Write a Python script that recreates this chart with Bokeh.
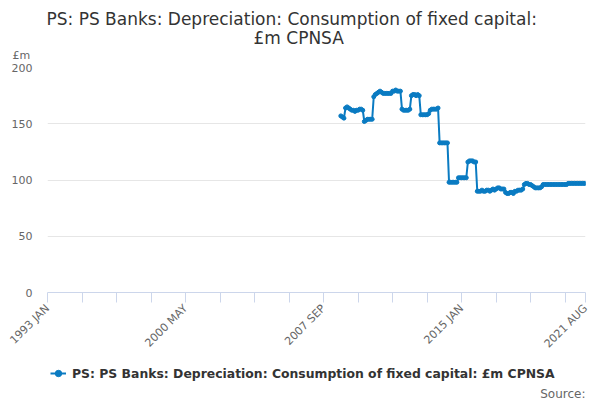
import math
from bokeh.plotting import figure
from bokeh.layouts import column
from bokeh.models import (Range1d, FixedTicker, ColumnDataSource, Legend, LegendItem, Title, Label)
from bokeh.embed import file_html
from bokeh.resources import INLINE

MON = ["JAN", "FEB", "MAR", "APR", "MAY", "JUN", "JUL", "AUG", "SEP", "OCT", "NOV", "DEC"]
months = [f"{y} {m}" for y in range(1993, 2022) for m in MON]
months = months[:months.index("2021 AUG") + 1]

series_start = "2008 AUG"
values = [
    157, 156, 155,
    164, 165, 164, 163, 162, 162, 161, 162, 162, 163, 163, 162,
    152, 153, 154, 154, 154, 154,
    174, 176, 177, 178, 179, 178, 177, 177, 177, 177, 177, 177,
    179, 179, 180, 179, 179, 179,
    163, 162, 162, 162, 162, 163,
    175, 176, 176, 175, 176, 175,
    158, 158, 158, 158, 158, 159,
    162, 163, 163, 163, 163, 164,
    133, 133, 133, 133, 133, 133,
    98, 98, 98, 98, 98, 98,
    102, 102, 102, 102, 102, 102,
    116, 117, 117, 117, 116, 116,
    90, 90, 90, 91, 90, 90, 91, 91, 90, 91, 92, 91,
    92, 93, 93, 92, 92, 92,
    89, 88, 88, 89, 89, 88,
    90, 90, 91, 91, 91, 92,
    96, 97, 97, 96, 96, 95,
    94, 93, 93, 93, 93, 94,
    96, 96, 96, 96, 96, 96, 96, 96, 96, 96, 96, 96, 96, 96, 96, 96,
    97, 97, 97, 97, 97, 97, 97, 97, 97, 97, 97, 97,
]
y_ticks = [0, 50, 100, 150, 200]
label_ticks = ["1993 JAN", "2000 MAY", "2007 SEP", "2015 JAN", "2021 AUG"]
tick_step = 22

title_line1 = "PS: PS Banks: Depreciation: Consumption of fixed capital:"
title_line2 = "£m CPNSA"
unit_text = "£m"
source_text = "Source:"
series_name = "PS: PS Banks: Depreciation: Consumption of fixed capital: £m CPNSA"

i0 = months.index(series_start)
xs = list(range(i0, i0 + len(values)))
src = ColumnDataSource(dict(x=xs, y=values, month=months[i0:i0 + len(values)]))

n_last = len(months) - 1
FONT = "DejaVu Sans"
COLOR = "#0a7bc2"

p = figure(frame_width=538, frame_height=225, output_backend="svg", toolbar_location=None,
           x_range=Range1d(0, n_last), y_range=Range1d(0, 200),
           min_border_left=47, min_border_right=15, min_border_top=67, min_border_bottom=63)
p.outline_line_color = None
p.background_fill_color = "white"
p.border_fill_color = "white"

l1 = p.line("x", "y", source=src, color=COLOR, line_width=2)
s1 = p.scatter("x", "y", source=src, color=COLOR, size=4)

# axes
xt = list(range(0, n_last, tick_step)) + [n_last]
p.xaxis.ticker = FixedTicker(ticks=xt)
p.xaxis.major_label_overrides = {t: (months[t] if months[t] in label_ticks else "") for t in xt}
p.xaxis.major_label_orientation = math.pi / 4
p.xaxis.axis_line_color = "#ccd6eb"
p.xaxis.major_tick_line_color = "#ccd6eb"
p.xaxis.major_tick_out = 10
p.xaxis.major_tick_in = 0
p.xaxis.minor_tick_line_color = None
p.xaxis.major_label_text_font = FONT
p.xaxis.major_label_text_font_size = "11px"
p.xaxis.major_label_text_color = "#666666"
p.xaxis.major_label_standoff = 4

p.yaxis.ticker = FixedTicker(ticks=y_ticks)
p.yaxis.axis_line_color = None
p.yaxis.major_tick_line_color = None
p.yaxis.minor_tick_line_color = None
p.yaxis.major_tick_out = 0
p.yaxis.major_label_standoff = 15
p.yaxis.major_label_text_font = FONT
p.yaxis.major_label_text_font_size = "11px"
p.yaxis.major_label_text_color = "#666666"

p.xgrid.grid_line_color = None
p.ygrid.grid_line_color = "#e6e6e6"
p.ygrid.ticker = FixedTicker(ticks=y_ticks[1:])

# above panels: first added is closest to the frame
p.add_layout(Title(text=unit_text, align="left", offset=-35, standoff=11,
                   text_font=FONT, text_font_size="11px", text_font_style="normal",
                   text_color="#666666"), "above")
p.add_layout(Title(text=title_line2, align="left", offset=206, standoff=-12,
                   text_font=FONT, text_font_size="17px", text_font_style="normal",
                   text_color="#333333"), "above")
p.add_layout(Title(text=title_line1, align="left", offset=-1, standoff=6,
                   text_font=FONT, text_font_size="17px", text_font_style="normal",
                   text_color="#333333"), "above")

# footer figure (frame aligned with the chart frame): legend and source
f = figure(width=600, height=45, output_backend="svg", toolbar_location=None,
           x_range=Range1d(47, 585), y_range=Range1d(0, 45),
           x_axis_type=None, y_axis_type=None, min_border=0)
f.outline_line_color = None
f.xgrid.grid_line_color = None
f.ygrid.grid_line_color = None
fl = f.line("x", "y", source=src, color=COLOR, line_width=2)
fs = f.scatter("x", "y", source=src, color=COLOR, size=3)
legend = Legend(items=[LegendItem(label=series_name, renderers=[fl, fs])],
                location=(3, 21), orientation="horizontal",
                padding=0, margin=0, spacing=0, label_standoff=6,
                glyph_width=16, glyph_height=18,
                border_line_color=None, background_fill_alpha=0,
                label_text_font=FONT, label_text_font_size="12.4px",
                label_text_font_style="bold", label_text_color="#333333")
f.add_layout(legend)
f.add_layout(Label(x=585, y=10, text=source_text, text_align="right",
                   text_baseline="alphabetic", text_font=FONT, text_font_size="12px",
                   text_color="#666666"))

layout = column(p, f, spacing=0)
open("out.html", "w").write(file_html(layout, INLINE))
